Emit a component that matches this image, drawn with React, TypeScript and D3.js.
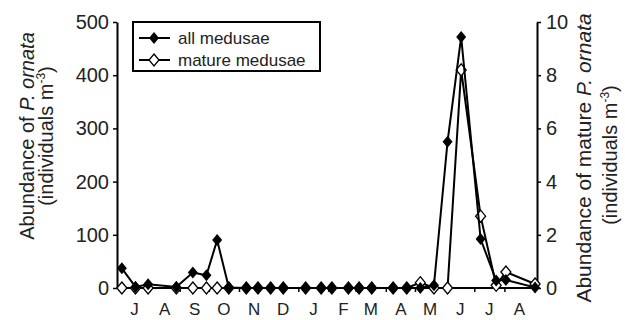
import React, { useEffect, useRef } from 'react'
import * as d3 from 'd3'

const sampleDates = [
  '2010-07-03', '2010-07-17', '2010-07-30', '2010-08-28', '2010-09-14', '2010-09-28',
  '2010-10-09', '2010-10-21', '2010-11-08', '2010-11-20', '2010-12-03', '2010-12-16',
  '2011-01-08', '2011-01-24', '2011-02-04', '2011-02-21', '2011-03-04', '2011-03-17',
  '2011-04-08', '2011-04-22', '2011-05-06', '2011-05-20', '2011-06-03', '2011-06-17',
  '2011-07-07', '2011-07-23', '2011-08-02', '2011-09-01',
]
const allMedusae = [37, 2, 7, 2, 29, 24, 90, 1, 0, 0, 0, 0, 0, 0, 0, 0, 0, 0, 0, 0, 0, 5, 275, 472, 92, 14, 15, 1]
const matureMedusae = [0, 0, 0, 0, 0, 0, 0, 0, 0, 0, 0, 0, 0, 0, 0, 0, 0, 0, 0, 0, 0.2, 0, 0, 8.2, 2.7, 0.1, 0.6, 0.15]
const leftTicks = [0, 100, 200, 300, 400, 500]
const rightTicks = [0, 2, 4, 6, 8, 10]
const legendLabels = ['all medusae', 'mature medusae']
const xDomain = ['2010-06-28', '2011-09-03']

const width = 625
const height = 320
const margin = { top: 22, right: 88, bottom: 32, left: 117 }
const font = 'Arial, "Liberation Sans", sans-serif'
const diamond = 'M0,-6L5,0L0,6L-5,0Z'

export default function App() {
  const svgRef = useRef<SVGSVGElement>(null)

  useEffect(() => {
    document.body.style.margin = '0'
    if (!svgRef.current) return
    const parse = d3.timeParse('%Y-%m-%d')
    const dates = sampleDates.map((d) => parse(d) as Date)

    const x = d3
      .scaleTime()
      .domain(xDomain.map((d) => parse(d) as Date))
      .range([margin.left, width - margin.right])
    const yL = d3.scaleLinear().domain([0, 500]).range([height - margin.bottom, margin.top])
    const yR = d3.scaleLinear().domain([0, 10]).range([height - margin.bottom, margin.top])

    const svg = d3.select(svgRef.current)
    svg.selectAll('*').remove()
    const g = svg.append('g')

    // x axis: ticks at month boundaries, labels centred in each month
    const months = d3.timeMonth.range(parse('2010-07-01') as Date, parse('2011-09-01') as Date)
    const xAxis = g.append('g').attr('transform', `translate(0,${height - margin.bottom})`)
    xAxis
      .append('line')
      .attr('x1', margin.left)
      .attr('x2', width - margin.right)
      .attr('stroke', '#000')
      .attr('stroke-width', 2)
    xAxis
      .selectAll('.mt')
      .data(months.slice(1))
      .enter()
      .append('line')
      .attr('x1', (d) => x(d))
      .attr('x2', (d) => x(d))
      .attr('y1', 0)
      .attr('y2', 4)
      .attr('stroke', '#000')
      .attr('stroke-width', 1.5)
    xAxis
      .selectAll('.ml')
      .data(months)
      .enter()
      .append('text')
      .attr('x', (d) => x(d3.timeDay.offset(d, 15)))
      .attr('y', 27)
      .attr('text-anchor', 'middle')
      .attr('font-family', font)
      .attr('font-size', 17)
      .attr('fill', '#222')
      .text((d) => d3.timeFormat('%b')(d)[0])

    const styleAxis = (sel: d3.Selection<SVGGElement, unknown, null, undefined>) => {
      sel.select('.domain').attr('stroke-width', 2)
      sel.selectAll('.tick line').attr('stroke-width', 1.5)
      sel.selectAll('.tick text').attr('font-size', 20).attr('font-family', font).attr('fill', '#222')
    }

    g.append('g')
      .attr('transform', `translate(${margin.left},0)`)
      .call(d3.axisLeft(yL).tickValues(leftTicks).tickSize(4).tickSizeOuter(0).tickPadding(4))
      .call(styleAxis)

    g.append('g')
      .attr('transform', `translate(${width - margin.right},0)`)
      .call(d3.axisRight(yR).tickValues(rightTicks).tickSize(4).tickSizeOuter(0).tickPadding(5))
      .call(styleAxis)

    // axis titles
    const leftTitle = g.append('text')
      .attr('transform', `translate(34,136) rotate(-90)`)
      .attr('text-anchor', 'middle')
      .attr('font-family', font)
      .attr('font-size', 20)
      .attr('fill', '#222')
    leftTitle.append('tspan').text('Abundance of ')
    leftTitle.append('tspan').attr('font-style', 'italic').text('P. ornata')
    const leftSub = g.append('text')
      .attr('transform', `translate(53,136) rotate(-90)`)
      .attr('text-anchor', 'middle')
      .attr('font-family', font)
      .attr('font-size', 20)
      .attr('fill', '#222')
    leftSub.append('tspan').text('(individuals m')
    leftSub.append('tspan').attr('font-size', 12).attr('dy', -8).text('-3')
    leftSub.append('tspan').attr('dy', 8).text(')')

    const rightTitle = g.append('text')
      .attr('transform', `translate(591,158) rotate(-90)`)
      .attr('text-anchor', 'middle')
      .attr('font-family', font)
      .attr('font-size', 21)
      .attr('fill', '#222')
    rightTitle.append('tspan').text('Abundance of mature ')
    rightTitle.append('tspan').attr('font-style', 'italic').text('P. ornata')
    const rightSub = g.append('text')
      .attr('transform', `translate(617,155) rotate(-90)`)
      .attr('text-anchor', 'middle')
      .attr('font-family', font)
      .attr('font-size', 20)
      .attr('fill', '#222')
    rightSub.append('tspan').text('(individuals m')
    rightSub.append('tspan').attr('font-size', 12).attr('dy', -8).text('-3')
    rightSub.append('tspan').attr('dy', 8).text(')')

    // mature medusae (right axis), drawn beneath
    const lineR = d3.line<number>().x((_, i) => x(dates[i])).y((d) => yR(d))
    g.append('path')
      .datum(matureMedusae)
      .attr('d', lineR)
      .attr('fill', 'none')
      .attr('stroke', '#000')
      .attr('stroke-width', 2)
    g.selectAll('.om')
      .data(matureMedusae)
      .enter()
      .append('path')
      .attr('d', diamond)
      .attr('transform', (d, i) => `translate(${x(dates[i])},${yR(d)})`)
      .attr('fill', '#fff')
      .attr('stroke', '#000')
      .attr('stroke-width', 1.3)

    // all medusae (left axis)
    const lineL = d3.line<number>().x((_, i) => x(dates[i])).y((d) => yL(d))
    g.append('path')
      .datum(allMedusae)
      .attr('d', lineL)
      .attr('fill', 'none')
      .attr('stroke', '#000')
      .attr('stroke-width', 2)
    g.selectAll('.bm')
      .data(allMedusae)
      .enter()
      .append('path')
      .attr('d', diamond)
      .attr('transform', (d, i) => `translate(${x(dates[i])},${yL(d)})`)
      .attr('fill', '#000')

    // legend
    const lg = g.append('g').attr('transform', 'translate(133,22)')
    lg.append('rect')
      .attr('width', 187)
      .attr('height', 49)
      .attr('fill', '#fff')
      .attr('stroke', '#000')
      .attr('stroke-width', 2)
    legendLabels.forEach((label, i) => {
      const row = lg.append('g').attr('transform', `translate(0,${16 + i * 22})`)
      row.append('line').attr('x1', 6).attr('x2', 37).attr('stroke', '#000').attr('stroke-width', 2)
      row.append('path')
        .attr('d', diamond)
        .attr('transform', 'translate(21,0)')
        .attr('fill', i === 0 ? '#000' : '#fff')
        .attr('stroke', '#000')
        .attr('stroke-width', i === 0 ? 0 : 1.3)
      row.append('text')
        .attr('x', 45)
        .attr('y', 6)
        .attr('font-family', font)
        .attr('font-size', 17)
        .attr('fill', '#222')
        .text(label)
    })
  }, [])

  return <svg ref={svgRef} width={width} height={height} style={{ display: 'block' }} />
}
